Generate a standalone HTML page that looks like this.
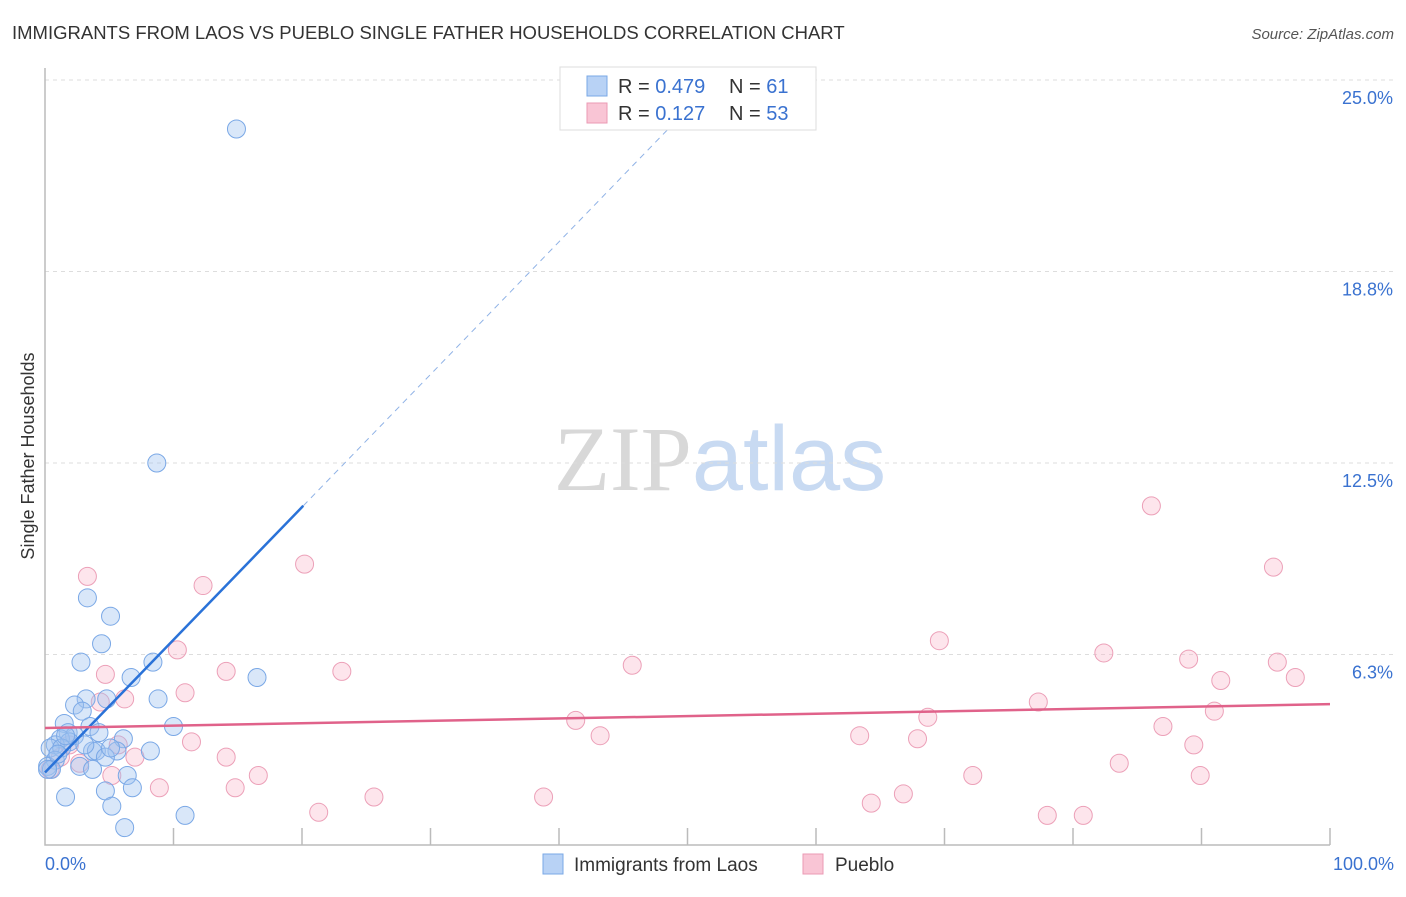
<!DOCTYPE html>
<html><head><meta charset="utf-8"><style>
body{margin:0;background:#fff;font-family:"Liberation Sans",sans-serif;}
svg text{font-family:"Liberation Sans",sans-serif;}
</style></head><body>
<svg id="chart" width="1406" height="892" viewBox="0 0 1406 892">
<text x="12" y="39" font-size="18.5" fill="#333">IMMIGRANTS FROM LAOS VS PUEBLO SINGLE FATHER HOUSEHOLDS CORRELATION CHART</text>
<text x="1394" y="39" font-size="15" fill="#555" font-style="italic" text-anchor="end">Source: ZipAtlas.com</text>
<text x="720" y="490" font-size="92" text-anchor="middle"><tspan fill="#d8d8d8" font-family="Liberation Serif">ZIP</tspan><tspan fill="#c8daf2">atlas</tspan></text>
<text transform="translate(34,456) rotate(-90)" font-size="18" fill="#333" text-anchor="middle">Single Father Households</text>
<g id="grid"></g><g id="axes"></g><g id="pts"></g><g id="lines"></g>
<g>
<rect x="560" y="67" width="256" height="63" fill="#fff" stroke="#ddd"/>
<rect x="587" y="76" width="20" height="20" fill="#b8d2f5" stroke="#7aa8e6"/>
<text x="618" y="93" font-size="20" fill="#333">R = <tspan fill="#3a72d0">0.479</tspan></text>
<text x="729" y="93" font-size="20" fill="#333">N = <tspan fill="#3a72d0"> 61</tspan></text>
<rect x="587" y="103" width="20" height="20" fill="#f9c5d5" stroke="#eb9ab4"/>
<text x="618" y="120" font-size="20" fill="#333">R = <tspan fill="#3a72d0"> 0.127</tspan></text>
<text x="729" y="120" font-size="20" fill="#333">N = <tspan fill="#3a72d0">53</tspan></text>
</g>
<g>
<rect x="543" y="854" width="20" height="20" fill="#b8d2f5" stroke="#7aa8e6"/>
<text x="574" y="871" font-size="19" fill="#333">Immigrants from Laos</text>
<rect x="803" y="854" width="20" height="20" fill="#f9c5d5" stroke="#eb9ab4"/>
<text x="835" y="871" font-size="19" fill="#333">Pueblo</text>
</g>
</svg>
<script>
const yTicks=[6.25,12.5,18.75,25];
const yTickLabels=["6.3%","12.5%","18.8%","25.0%"];
const xTickLabels=["0.0%","100.0%"];
const laosX=[14.9,8.7,3.3,5.1,4.4,2.8,8.4,6.7,16.5,8.8,4.8,3.2,2.3,2.9,10.0,1.5,3.5,1.8,2.3,4.2,6.1,1.2,1.9,0.8,0.4,1.3,3.7,4.0,8.2,5.6,4.7,0.8,0.2,0.5,2.7,3.7,6.4,4.7,6.8,1.6,5.2,10.9,6.2,0.2,1.0,1.6,5.1,3.1];
const laosY=[23.4,12.5,8.1,7.5,6.6,6.0,6.0,5.5,5.5,4.8,4.8,4.8,4.6,4.4,3.9,4.0,3.9,3.7,3.6,3.7,3.5,3.5,3.4,3.3,3.2,3.2,3.1,3.1,3.1,3.1,2.9,2.8,2.6,2.5,2.6,2.5,2.3,1.8,1.9,1.6,1.3,1.0,0.6,2.5,3.0,3.6,3.2,3.3];
const puebloX=[86.1,95.6,20.2,3.3,12.3,69.6,10.3,82.4,89.0,95.9,45.7,14.1,23.1,4.7,91.5,97.3,10.9,6.2,77.3,4.3,91.0,41.3,68.7,87.0,43.2,63.4,67.9,11.4,89.4,5.7,14.1,7.0,83.6,2.7,16.6,5.2,72.2,89.9,14.8,8.9,25.6,38.8,66.8,64.3,21.3,78.0,80.8,0.4,1.2,1.9];
const puebloY=[11.1,9.1,9.2,8.8,8.5,6.7,6.4,6.3,6.1,6.0,5.9,5.7,5.7,5.6,5.4,5.5,5.0,4.8,4.7,4.7,4.4,4.1,4.2,3.9,3.6,3.6,3.5,3.4,3.3,3.3,2.9,2.9,2.7,2.7,2.3,2.3,2.3,2.3,1.9,1.9,1.6,1.6,1.7,1.4,1.1,1.0,1.0,2.5,2.9,3.3];
const laosTrend=[2.4,0.433]; // intercept, slope
const puebloTrend=[3.85,0.0078];
const X=v=>45+v*12.85, Y=v=>846-v*30.64;
const NS="http://www.w3.org/2000/svg";
function mk(p,t,a){const e=document.createElementNS(NS,t);for(const k in a)e.setAttribute(k,a[k]);p.appendChild(e);return e;}
const grid=document.getElementById('grid'),axes=document.getElementById('axes'),pts=document.getElementById('pts'),lines=document.getElementById('lines');
yTicks.forEach((t,i)=>{
 const l=mk(grid,'line',{x1:45,x2:1394,y1:Y(t),y2:Y(t),stroke:'#ddd','stroke-dasharray':'4,4'});
 
 
 const tx=mk(grid,'text',{x:1393,y:Y(t)+24,'font-size':18,fill:'#3a72d0','text-anchor':'end'});
 tx.textContent=yTickLabels[i];
 
 
});
const ax=mk(axes,'path',{d:`M45 68 V845 H1330`,stroke:'#bbb',fill:'none','stroke-width':1.5});


for(let i=1;i<=10;i++){const t=mk(axes,'line',{x1:X(i*10),x2:X(i*10),y1:828,y2:845,stroke:'#bbb','stroke-width':1.5});
 
 }
[[0,'start',45],[1,'end',1394]].forEach(([i,a,x])=>{const t=mk(axes,'text',{x:x,y:870,'font-size':18,fill:'#3a72d0','text-anchor':a});t.textContent=xTickLabels[i];
 
 });
function series(xs,ys,fill,stroke,name){xs.forEach((x,i)=>{const c=mk(pts,'circle',{cx:X(x),cy:Y(ys[i]),r:9,fill:fill,stroke:stroke,'stroke-width':1});
 
 });}
series(puebloX,puebloY,'rgba(248,180,200,0.35)','#eca0b8','pueblo-point');
series(laosX,laosY,'rgba(160,196,240,0.4)','#7aa8e6','laos-point');
const l1=mk(lines,'line',{x1:X(0),y1:Y(laosTrend[0]),x2:X(20.1),y2:Y(laosTrend[0]+laosTrend[1]*20.1),stroke:'#2a72d8','stroke-width':2.5});


const l2=mk(lines,'line',{x1:X(20.1),y1:Y(laosTrend[0]+laosTrend[1]*20.1),x2:X(50),y2:Y(laosTrend[0]+laosTrend[1]*50),stroke:'#8fb2e6','stroke-width':1,'stroke-dasharray':'6,5'});


const l3=mk(lines,'line',{x1:X(0),y1:Y(puebloTrend[0]),x2:X(100),y2:Y(puebloTrend[0]+puebloTrend[1]*100),stroke:'#e0628a','stroke-width':2.5});


</script>
</body></html>
